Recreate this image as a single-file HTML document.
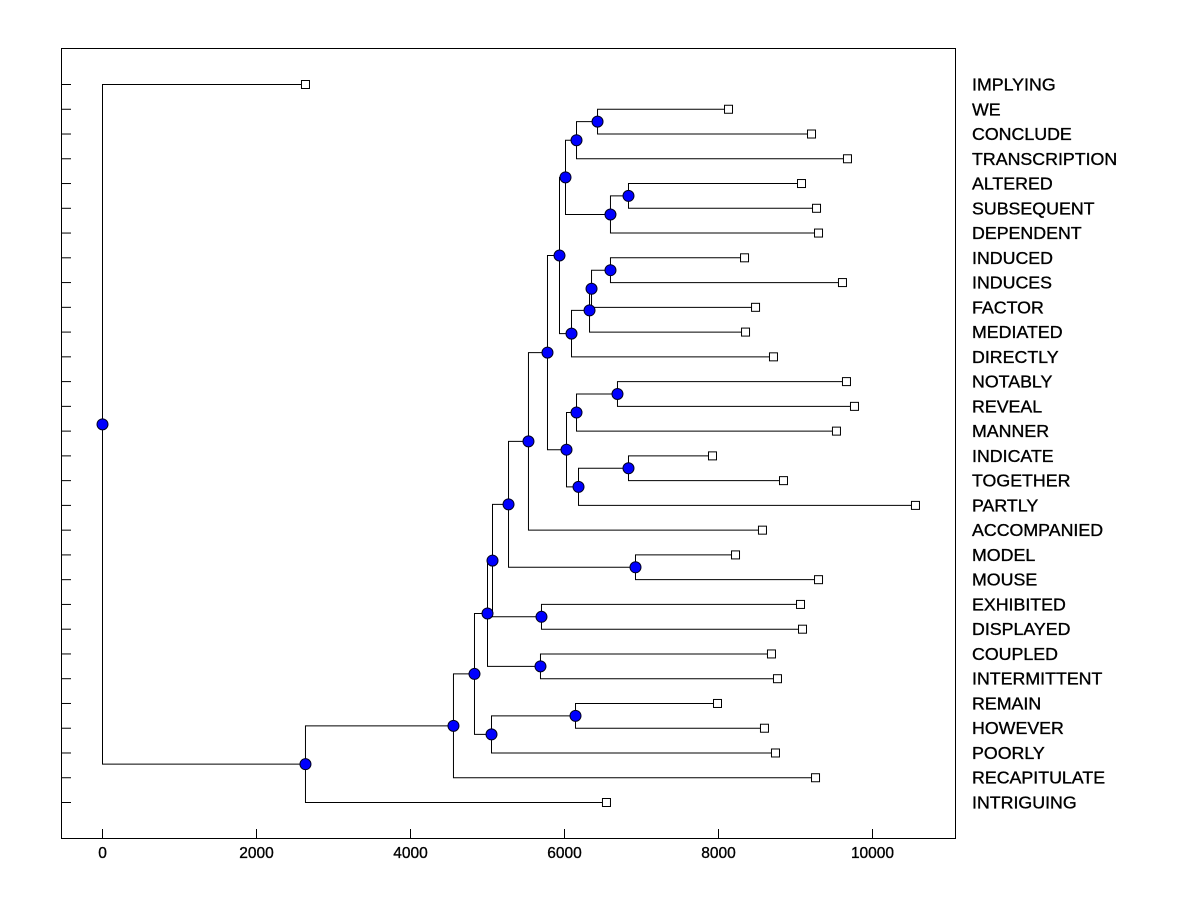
<!DOCTYPE html>
<html><head><meta charset="utf-8"><style>
body{margin:0;background:#fff}
svg{display:block;font-family:"Liberation Sans",Arial,sans-serif}
</style></head><body>
<svg id="chart" width="1200" height="900" xmlns="http://www.w3.org/2000/svg">
<rect x="61.5" y="48.5" width="894" height="790" fill="none" stroke="#000"/>
<g id="axes"></g><g id="links"></g><g id="nodes"></g><g id="labels"></g>
</svg>
<script>
const leaves = ["IMPLYING","WE","CONCLUDE","TRANSCRIPTION","ALTERED","SUBSEQUENT","DEPENDENT","INDUCED","INDUCES","FACTOR","MEDIATED","DIRECTLY","NOTABLY","REVEAL","MANNER","INDICATE","TOGETHER","PARTLY","ACCOMPANIED","MODEL","MOUSE","EXHIBITED","DISPLAYED","COUPLED","INTERMITTENT","REMAIN","HOWEVER","POORLY","RECAPITULATE","INTRIGUING"];
const leafValues = [2636,8130,9208,9675,9078,9273,9299,8338,9610,8481,8351,8714,9662,9766,9532,7922,8844,10558,8571,8221,9299,9065,9091,8688,8766,7987,8597,8740,9260,6545];
const mergeNames = ["AA","Y","AB","Z","T","X","W","V","U","N","S","P","R","Q","O","M","K","L","I","J","G","H","D","F","E","C","B","A","ROOT"];
const mergeA = ["WE","AA","ALTERED","AB","Y","INDUCED","X","W","V","T","NOTABLY","S","INDICATE","R","P","N","M","MODEL","K","EXHIBITED","I","COUPLED","G","REMAIN","F","D","C","B","IMPLYING"];
const mergeB = ["CONCLUDE","TRANSCRIPTION","SUBSEQUENT","DEPENDENT","Z","INDUCES","FACTOR","MEDIATED","DIRECTLY","U","REVEAL","MANNER","TOGETHER","PARTLY","Q","O","ACCOMPANIED","MOUSE","L","DISPLAYED","J","INTERMITTENT","H","HOWEVER","POORLY","E","RECAPITULATE","INTRIGUING","A"];
const mergeHeights = [6429,6156,6831,6597,6013,6597,6351,6325,6091,5935,6688,6156,6831,6182,6026,5779,5532,6922,5273,5701,5065,5688,5000,6143,5052,4831,4558,2636,0];
const xTicks = [0,2000,4000,6000,8000,10000];

const NS="http://www.w3.org/2000/svg";
const xs=v=>102+v*0.077;
const ys=i=>84+i*(802-84)/(leaves.length-1);
function mk(tag,attrs,parent){const e=document.createElementNS(NS,tag);for(const k in attrs)e.setAttribute(k,attrs[k]);document.getElementById(parent).appendChild(e);return e;}

const pos={};
leaves.forEach((n,i)=>{pos[n]={x:xs(leafValues[i]),y:ys(i)};});
mergeNames.forEach((n,i)=>{const a=pos[mergeA[i]],b=pos[mergeB[i]];pos[n]={x:xs(mergeHeights[i]),y:(a.y+b.y)/2};});

leaves.forEach((n,i)=>{
  const t=mk('line',{x1:61,x2:71,y1:ys(i)+0.5,y2:ys(i)+0.5,stroke:'#000'},'axes');
  
  
});
xTicks.forEach(v=>{
  const t=mk('line',{x1:xs(v)+0.5,x2:xs(v)+0.5,y1:829,y2:838,stroke:'#000'},'axes');
  
  
  const l=mk('text',{x:xs(v)+0.5,y:858,'text-anchor':'middle','font-size':'15.5',stroke:'#000','stroke-width':'0.35'},'axes');
  l.textContent=v;
  
  
});
mergeNames.forEach((n,i)=>{
  const p=pos[n],a=pos[mergeA[i]],b=pos[mergeB[i]];
  const d=`M${a.x+0.5},${a.y+0.5}H${p.x+0.5}V${b.y+0.5}H${b.x+0.5}`;
  const e=mk('path',{d:d,fill:'none',stroke:'#000','stroke-width':1},'links');
  
  
});
mergeNames.forEach(n=>{
  const p=pos[n];
  const c=mk('circle',{cx:p.x+0.5,cy:p.y+0.5,r:5.5,fill:'#0000ff',stroke:'#000020','stroke-width':1},'nodes');
  
  
});
leaves.forEach((n,i)=>{
  const p=pos[n];
  const r=mk('rect',{x:p.x-3.5,y:p.y-3.5,width:8,height:8,fill:'#fff',stroke:'#000'},'nodes');
  
  
  const t=mk('text',{x:972,y:p.y+6.5,'font-size':'17.8',stroke:'#000','stroke-width':'0.35'},'labels');
  t.textContent=n;
  
  
});
</script>
</body></html>
